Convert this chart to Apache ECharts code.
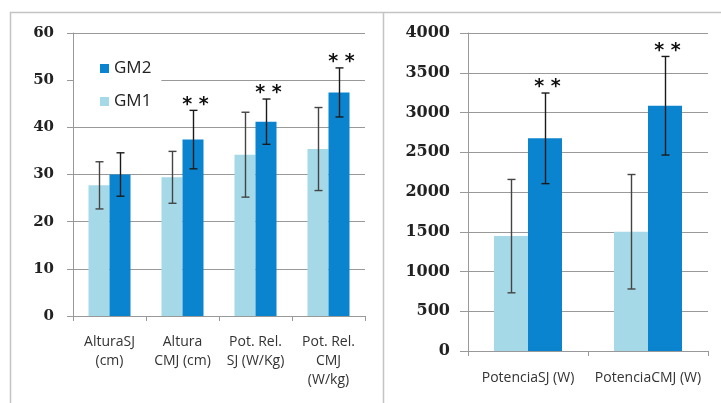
<!DOCTYPE html>
<html>
<head>
<meta charset="utf-8">
<script src="https://cdn.jsdelivr.net/npm/echarts@6/dist/echarts.min.js"></script>
<style>
  html, body { margin: 0; padding: 0; background: #fff; }
  #chart { width: 721px; height: 403px; }
</style>
</head>
<body>
<div id="chart"></div>
<script>
// left panel: jump height and relative power
const leftCats = ['AlturaSJ\n(cm)', 'Altura\nCMJ (cm)', 'Pot. Rel.\nSJ (W/Kg)', 'Pot. Rel.\nCMJ\n(W/kg)'];
const gm1Left = [27.7, 29.4, 34.2, 35.4];
const gm1LeftSd = [5.0, 5.5, 9.0, 8.8];
const gm2Left = [30.0, 37.4, 41.2, 47.4];
const gm2LeftSd = [4.6, 6.2, 4.8, 5.2];
const starsLeft = ['', '* *', '* *', '* *'];
const leftTicks = { min: 0, max: 60, interval: 10 };

// right panel: absolute power
const rightCats = ['PotenciaSJ (W)', 'PotenciaCMJ (W)'];
const gm1Right = [1445, 1500];
const gm1RightSd = [713, 720];
const gm2Right = [2675, 3085];
const gm2RightSd = [570, 620];
const starsRight = ['* *', '* *'];
const rightTicks = { min: 0, max: 4000, interval: 500 };

const colorGM1 = '#a6d9e7';
const colorGM2 = '#0b84cf';
const barW = [21, 34];

const myChart = echarts.init(document.getElementById('chart'));

function errData(vals, sds, stars) {
  return vals.map(function (v, i) {
    return [i, v - sds[i], v + sds[i], stars ? stars[i] : ''];
  });
}

function errSeries(name, data, gridIdx, side, color) {
  const w = barW[gridIdx];
  return {
    name: name,
    type: 'custom',
    xAxisIndex: gridIdx,
    yAxisIndex: gridIdx,
    z: 5,
    silent: true,
    encode: { x: 0, y: [1, 2] },
    data: data,
    renderItem: function (params, api) {
      const lo = api.coord([api.value(0), api.value(1)]);
      const hi = api.coord([api.value(0), api.value(2)]);
      const x = Math.round(lo[0] + side * w / 2) + 0.5;
      const cap = 4;
      const style = { stroke: color, lineWidth: 1.4 };
      const children = [
        { type: 'line', shape: { x1: x, y1: hi[1], x2: x, y2: lo[1] }, style: style },
        { type: 'line', shape: { x1: x - cap, y1: hi[1], x2: x + cap, y2: hi[1] }, style: style },
        { type: 'line', shape: { x1: x - cap, y1: lo[1], x2: x + cap, y2: lo[1] }, style: style }
      ];
      const star = data[params.dataIndex][3];
      if (star) {
        children.push({
          type: 'text',
          style: {
            text: star, x: x + 2, y: hi[1] + 4,
            align: 'center', verticalAlign: 'bottom',
            fontSize: 19, fontWeight: 'bold', fontFamily: 'DejaVu Sans', fill: '#111'
          }
        });
      }
      return { type: 'group', children: children };
    }
  };
}

const yLabel = {
  color: '#222', fontFamily: 'DejaVu Serif', fontWeight: 'bold',
  formatter: function (v) { return String(v); }
};

const catLabel = { fontFamily: 'Open Sans', fontSize: 14, color: '#333', interval: 0 };

const option = {
  backgroundColor: '#fff',
  animation: false,
  legend: {
    data: ['GM2', 'GM1'],
    orient: 'vertical',
    left: 74,
    top: 54,
    padding: [6, 10, 6, 26],
    itemGap: 16,
    itemWidth: 9,
    itemHeight: 9,
    backgroundColor: '#fff',
    z: 10,
    textStyle: { fontFamily: 'Open Sans', fontSize: 17, color: '#222' },
    icon: 'rect'
  },
  graphic: [
    { type: 'polyline', shape: { points: [[10.5, 403], [10.5, 12.5], [721, 12.5]] }, style: { stroke: '#c4c4c4', lineWidth: 1.5, fill: null } },
    { type: 'line', shape: { x1: 383.5, y1: 12.5, x2: 383.5, y2: 403 }, style: { stroke: '#c4c4c4', lineWidth: 1.5 } }
  ],
  grid: [
    { left: 73, right: 356, top: 33, bottom: 87 },
    { left: 468, right: 13, top: 33, bottom: 52 }
  ],
  xAxis: [
    {
      type: 'category', gridIndex: 0, data: leftCats,
      axisLine: { lineStyle: { color: '#999' } },
      axisTick: { show: true, length: 5, lineStyle: { color: '#999' } },
      axisLabel: Object.assign({ margin: 17, lineHeight: 19 }, catLabel)
    },
    {
      type: 'category', gridIndex: 1, data: rightCats,
      axisLine: { lineStyle: { color: '#999' } },
      axisTick: { show: true, length: 5, lineStyle: { color: '#999' } },
      axisLabel: Object.assign({ margin: 20 }, catLabel)
    }
  ],
  yAxis: [
    {
      type: 'value', gridIndex: 0,
      min: leftTicks.min, max: leftTicks.max, interval: leftTicks.interval,
      axisLine: { show: true, lineStyle: { color: '#999' } },
      axisTick: { show: true, length: 6, lineStyle: { color: '#999' } },
      splitLine: { lineStyle: { color: '#999' } },
      axisLabel: Object.assign({ fontSize: 15, margin: 19 }, yLabel)
    },
    {
      type: 'value', gridIndex: 1,
      min: rightTicks.min, max: rightTicks.max, interval: rightTicks.interval,
      axisLine: { show: true, lineStyle: { color: '#999' } },
      axisTick: { show: true, length: 8, lineStyle: { color: '#999' } },
      splitLine: { lineStyle: { color: '#999' } },
      axisLabel: Object.assign({ fontSize: 16, margin: 18 }, yLabel)
    }
  ],
  series: [
    { name: 'GM1', type: 'bar', xAxisIndex: 0, yAxisIndex: 0, data: gm1Left, barWidth: barW[0], barGap: '0%', itemStyle: { color: colorGM1 } },
    { name: 'GM2', type: 'bar', xAxisIndex: 0, yAxisIndex: 0, data: gm2Left, barWidth: barW[0], barGap: '0%', itemStyle: { color: colorGM2 } },
    { name: 'GM1', type: 'bar', xAxisIndex: 1, yAxisIndex: 1, data: gm1Right, barWidth: barW[1], barGap: '0%', itemStyle: { color: colorGM1 } },
    { name: 'GM2', type: 'bar', xAxisIndex: 1, yAxisIndex: 1, data: gm2Right, barWidth: barW[1], barGap: '0%', itemStyle: { color: colorGM2 } },
    errSeries('errGM1L', errData(gm1Left, gm1LeftSd), 0, -1, '#444'),
    errSeries('errGM2L', errData(gm2Left, gm2LeftSd, starsLeft), 0, 1, '#1a1a1a'),
    errSeries('errGM1R', errData(gm1Right, gm1RightSd), 1, -1, '#444'),
    errSeries('errGM2R', errData(gm2Right, gm2RightSd, starsRight), 1, 1, '#1a1a1a')
  ]
};
myChart.setOption(option);
</script>
</body>
</html>
